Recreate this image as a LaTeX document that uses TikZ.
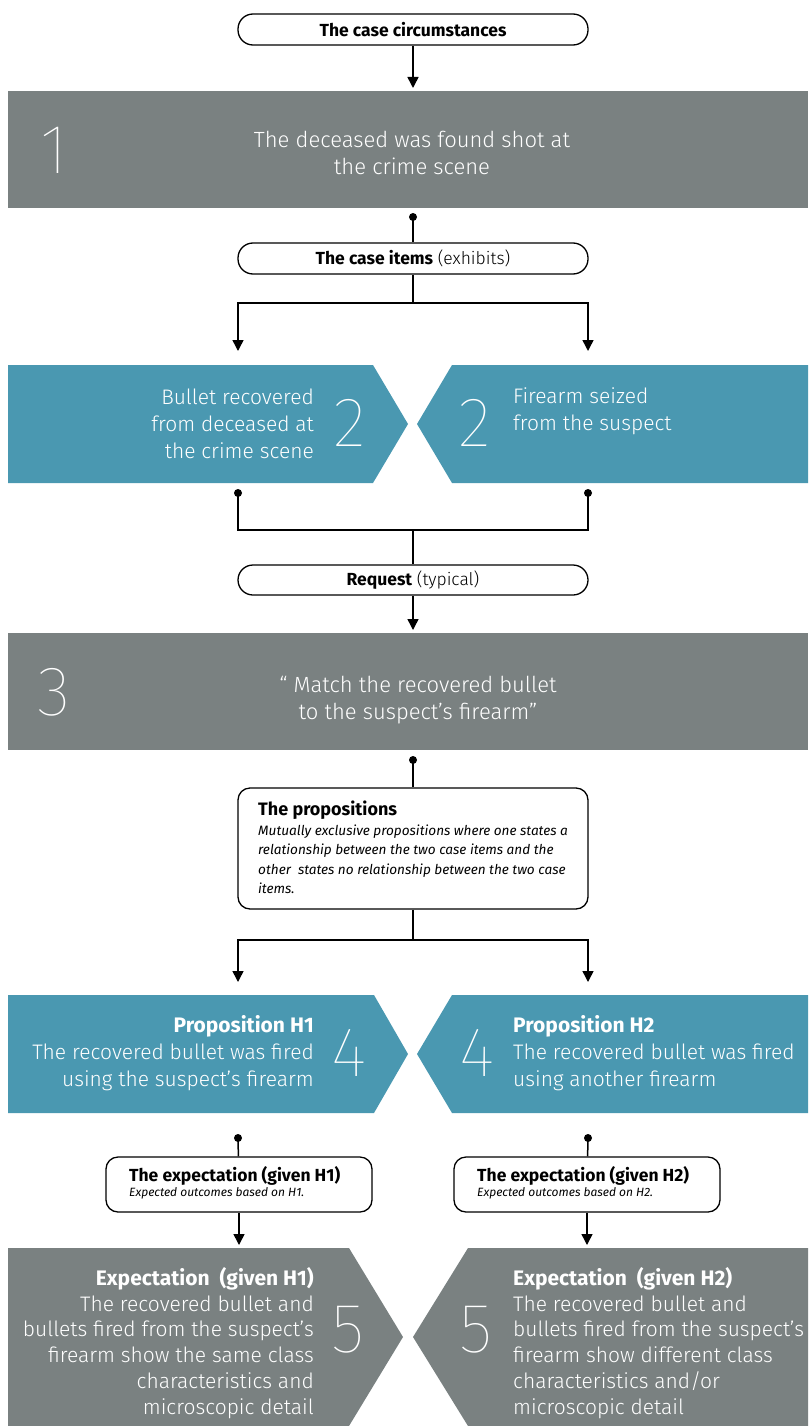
\documentclass[tikz,border=0pt]{standalone}
\usepackage{fontspec}
\setmainfont{Fira Sans}
\IfFontExistsTF{Fira Sans Light}{\newfontfamily\lightf{Fira Sans Light}}{\newfontfamily\lightf{Fira Sans}}
\IfFontExistsTF{Fira Sans Thin}{\newfontfamily\thinf{Fira Sans Thin}}{\IfFontExistsTF{Fira Sans ExtraLight}{\newfontfamily\thinf{Fira Sans ExtraLight}}{\newfontfamily\thinf{Fira Sans}}}
\newfontfamily\regf{Fira Sans}
\usetikzlibrary{arrows.meta}
\definecolor{greyc}{RGB}{122,129,129}
\definecolor{bluec}{RGB}{74,152,177}
\tikzset{
  ln/.style={line width=1.5pt, draw=black},
  arr/.style={ln, -{Triangle[length=11pt,width=11pt]}},
  pill/.style={draw=black, line width=1.3pt, fill=white, rounded corners=15pt, minimum width=350pt, minimum height=31pt, inner sep=0pt, font=\fontsize{17.5}{19}\selectfont},
  smallbox/.style={draw=black, line width=1.3pt, fill=white, rounded corners=12pt, inner sep=0pt},
  boxtext/.style={text=white, inner sep=0pt, font=\lightf\fontsize{21}{27}\selectfont},
  boxtextb/.style={text=white, inner sep=0pt, font=\lightf\fontsize{21}{25.8}\selectfont},
  num/.style={text=white, inner sep=0pt, font=\thinf\fontsize{70}{70}\selectfont},
  dotc/.style={fill=black},
}
\begin{document}
\begin{tikzpicture}[x=1pt,y=-1pt]
\useasboundingbox (0,0) rectangle (808,1426);

% ---------- step 1 ----------
\node[pill] (p1) at (413,29.5) {\bfseries The case circumstances};
\fill[greyc] (8,91) rectangle (808,208);
\node[num] (n1) at (54,150) {1};
\node[boxtext, align=center, font=\lightf\fontsize{22}{27}\selectfont] (t1) at (412,153) {The deceased was found shot at\\the crime scene};
\coordinate (b1in) at (413,88);
\coordinate (b1out) at (413,217);
\draw[arr] (p1) -- (b1in);
\fill[dotc] (b1out) circle (4);

% ---------- case items ----------
\node[pill] (p2) at (413,258.5) {{\bfseries The case items} {\lightf(exhibits)}};
\draw[ln] (b1out) -- (p2);
\coordinate (j1) at (413,303);
\coordinate (a2l) at (238,351);
\coordinate (a2r) at (588,351);
\draw[ln] (p2) -- (j1);
\draw[arr] (j1) -| (a2l);
\draw[arr] (j1) -| (a2r);

% ---------- step 2 ----------
\fill[bluec] (8,365) -- (373,365) -- (408,424) -- (373,483) -- (8,483) -- cycle;
\fill[bluec] (452,365) -- (808,365) -- (808,483) -- (452,483) -- (417,424) -- cycle;
\node[boxtext, anchor=east, align=right] (t2l) at (314,424) {Bullet recovered\\from deceased at\\the crime scene};
\node[num] (n2l) at (350,423) {2};
\node[num] (n2r) at (475,423) {2};
\node[boxtext, anchor=west, align=left] (t2r) at (513,411) {Firearm seized\\from the suspect};

% ---------- request ----------
\coordinate (d2l) at (238,493);
\coordinate (d2r) at (588,493);
\fill[dotc] (d2l) circle (4);
\fill[dotc] (d2r) circle (4);
\coordinate (j2) at (413,530);
\draw[ln] (d2l) |- (j2);
\draw[ln] (d2r) |- (j2);
\node[pill, minimum height=30pt] (p3) at (413,580) {{\bfseries Request} {\lightf(typical)}};
\draw[ln] (j2) -- (p3);
\coordinate (b3in) at (413,630);
\draw[arr] (p3) -- (b3in);

% ---------- step 3 ----------
\fill[greyc] (8,633) rectangle (808,750);
\node[num] (n3) at (54,692) {3};
\node[boxtext, align=center, font=\lightf\fontsize{22}{27}\selectfont] (t3) at (418,700) {“ Match the recovered bullet\\to the suspect’s firearm”};
\coordinate (b3out) at (413,760);
\fill[dotc] (b3out) circle (4);

% ---------- propositions ----------
\node[smallbox, minimum width=350pt, minimum height=121pt] (pr) at (413,848.5) {};
\node[anchor=north west, inner sep=0pt, align=left, font=\fontsize{13.6}{19.5}\selectfont] (prt) at (258,801) {{\bfseries\fontsize{18}{20}\selectfont The propositions}\\
{\itshape Mutually exclusive propositions where one states a}\\
{\itshape relationship between the two case items and the}\\
{\itshape other\ \ states no relationship between the two case}\\
{\itshape items.}};
\draw[ln] (b3out) -- (pr);
\coordinate (j3) at (413,940);
\coordinate (a4l) at (238,982);
\coordinate (a4r) at (588,982);
\draw[ln] (pr) -- (j3);
\draw[arr] (j3) -| (a4l);
\draw[arr] (j3) -| (a4r);

% ---------- step 4 ----------
\fill[bluec] (8,995) -- (374,995) -- (408,1054) -- (374,1113) -- (8,1113) -- cycle;
\fill[bluec] (452,995) -- (808,995) -- (808,1113) -- (452,1113) -- (417,1054) -- cycle;
\node[boxtext, anchor=east, align=right] (t4l) at (314,1053) {{\regf\bfseries Proposition H1}\\
The recovered bullet was fired\\
using the suspect’s firearm};
\node[num] (n4l) at (349,1053) {4};
\node[num] (n4r) at (477,1053) {4};
\node[boxtext, anchor=west, align=left] (t4r) at (513,1053) {{\regf\bfseries Proposition H2}\\
The recovered bullet was fired\\
using another firearm};

% ---------- expectations ----------
\coordinate (d4l) at (238,1138);
\coordinate (d4r) at (588,1138);
\fill[dotc] (d4l) circle (4);
\fill[dotc] (d4r) circle (4);
\node[smallbox, minimum width=266pt, minimum height=55pt] (el) at (239,1184.5) {};
\node[smallbox, minimum width=266pt, minimum height=55pt] (er) at (587,1184.5) {};
\node[anchor=north west, inner sep=0pt, align=left, font=\fontsize{12}{15}\selectfont] (elt) at (129,1166) {{\bfseries\fontsize{17.5}{17}\selectfont The expectation (given H1)}\\
{\itshape Expected outcomes based on H1.}};
\node[anchor=north west, inner sep=0pt, align=left, font=\fontsize{12}{15}\selectfont] (ert) at (477,1166) {{\bfseries\fontsize{17.5}{17}\selectfont The expectation (given H2)}\\
{\itshape Expected outcomes based on H2.}};
\draw[ln] (d4l) -- (el);
\draw[ln] (d4r) -- (er);
\coordinate (a5l) at (239,1245);
\coordinate (a5r) at (587,1245);
\draw[arr] (el) -- (a5l);
\draw[arr] (er) -- (a5r);

% ---------- step 5 ----------
\fill[greyc] (8,1248) -- (349,1248) -- (403,1337) -- (349,1426) -- (8,1426) -- cycle;
\fill[greyc] (468,1248) -- (808,1248) -- (808,1426) -- (468,1426) -- (413,1337) -- cycle;
\node[boxtextb, anchor=east, align=right] (t5l) at (314,1343) {{\regf\bfseries Expectation\ \ (given H1)}\\
The recovered bullet and\\
bullets fired from the suspect’s\\
firearm show the same class\\
characteristics and\\
microscopic detail};
\node[num] (n5l) at (348,1330) {5};
\node[num] (n5r) at (476,1330) {5};
\node[boxtextb, anchor=west, align=left] (t5r) at (513,1343) {{\regf\bfseries Expectation\ \ (given H2)}\\
The recovered bullet and\\
bullets fired from the suspect’s\\
firearm show different class\\
characteristics and/or\\
microscopic detail};
\end{tikzpicture}
\end{document}
